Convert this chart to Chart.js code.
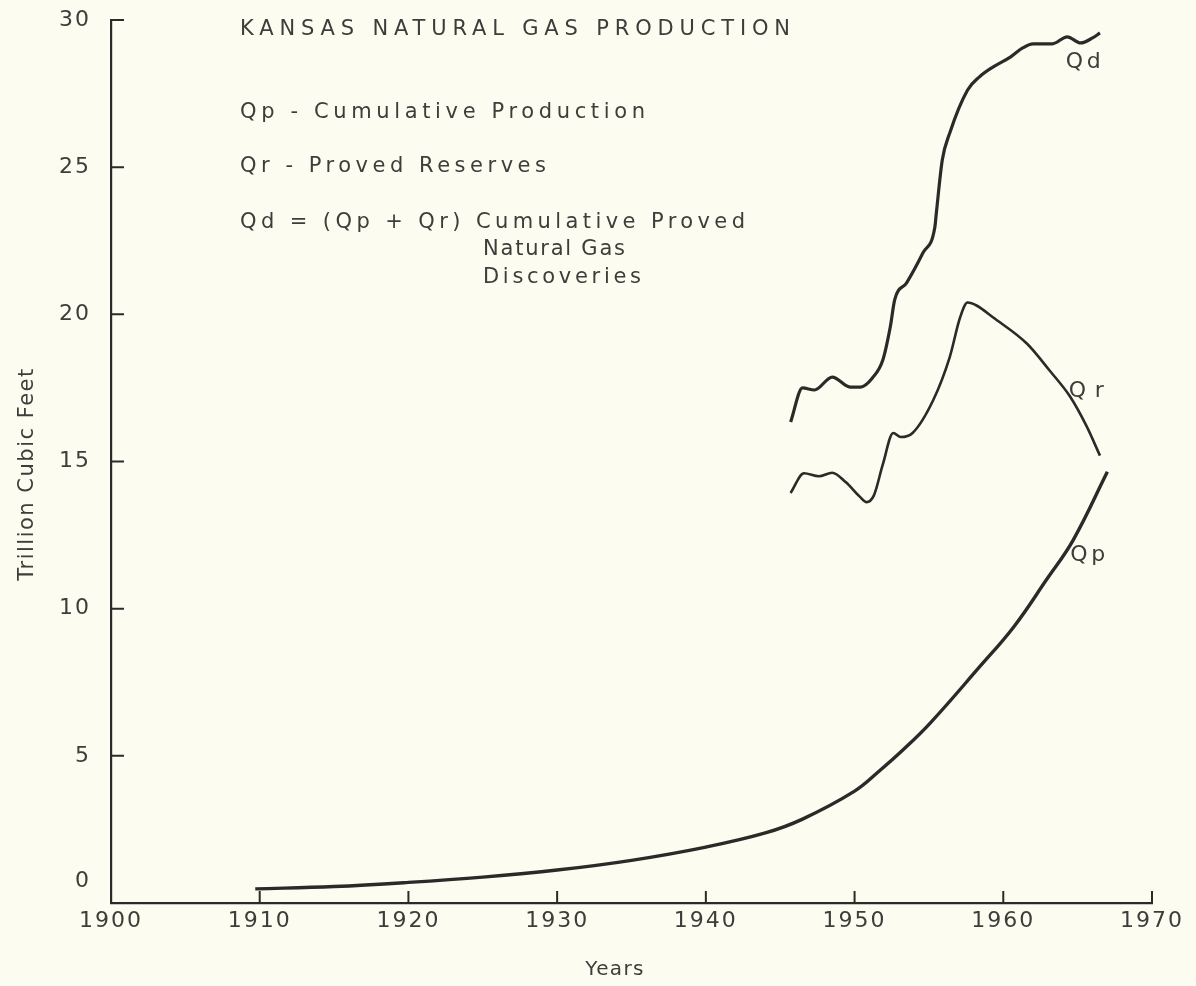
<!DOCTYPE html>
<html>
<head>
<meta charset="utf-8">
<script src="https://cdn.jsdelivr.net/npm/chart.js@4.4.0/dist/chart.umd.min.js"></script>
<style>
    html, body { margin: 0; padding: 0; background: #fcfcf1; }
    #wrap { width: 1196px; height: 986px; }
</style>
</head>
<body>
<div id="wrap"><canvas id="myChart" width="1196" height="986"></canvas></div>
<script>
// values (years, trillion cubic feet)
const qpYears = [1909.7, 1915, 1920, 1925, 1930, 1935, 1940, 1944, 1946.5, 1950, 1951.7, 1953.3, 1955.1, 1958.4, 1960.7, 1962.9, 1964.7, 1967.0]
const qpValues = [0.48, 0.56, 0.7, 0.88, 1.12, 1.45, 1.9, 2.38, 2.85, 3.8, 4.5, 5.22, 6.12, 8.02, 9.38, 10.98, 12.33, 14.65]

const qrYears = [1945.7, 1946.6, 1947.6, 1948.5, 1949.4, 1950.4, 1950.8, 1951.3, 1951.9, 1952.6, 1953.1, 1953.9, 1955.3, 1956.4, 1957.1, 1957.6, 1958.2, 1959.3, 1961.6, 1963.1, 1964.5, 1965.6, 1966.5]
const qrValues = [13.93, 14.6, 14.5, 14.62, 14.3, 13.78, 13.62, 13.85, 14.9, 15.97, 15.83, 15.97, 17.1, 18.55, 19.9, 20.4, 20.3, 19.9, 19.0, 18.1, 17.2, 16.2, 15.2]

const qdYears = [1945.7, 1946.5, 1947.3, 1948.5, 1949.7, 1950.4, 1951.2, 1951.9, 1952.4, 1952.7, 1953.5, 1954.6, 1955.4, 1955.5, 1955.9, 1956.4, 1957.6, 1958.4, 1959.3, 1960.5, 1961.3, 1962.0, 1963.3, 1964.3, 1965.2, 1966.0, 1966.5]
const qdValues = [16.34, 17.5, 17.43, 17.87, 17.53, 17.53, 17.84, 18.45, 19.57, 20.5, 21.07, 22.09, 22.97, 23.45, 25.25, 26.16, 27.62, 28.07, 28.4, 28.75, 29.05, 29.19, 29.19, 29.43, 29.22, 29.39, 29.56]

// curve labels, placed in data coordinates (left edge / middle)
const labelTexts = ['Qd', 'Qr', 'Qp']
const labelYears = [1964.2, 1964.4, 1964.5]
const labelValues = [28.55, 17.4, 11.8]

const xMin = 1900, xMax = 1970, xStep = 10
const yMin = 0, yMax = 30, yStep = 5

const INK = '#2a2a28'
const TEXT = '#3d3d3a'
const PAPER = '#fcfcf1'
const FONT = '"DejaVu Sans", sans-serif'

function toPoints(xs, ys) {
    return xs.map((v, i) => ({x: v, y: ys[i]}))
}

// draw text stretched with letter spacing to a given visible width
function spaced(ctx, text, x, y, size, width) {
    ctx.font = size + 'px ' + FONT
    ctx.letterSpacing = '0px'
    const w0 = ctx.measureText(text).width
    const s = text.length > 1 ? Math.max(0, (width - w0) / (text.length - 1)) : 0
    ctx.letterSpacing = s + 'px'
    ctx.fillText(text, x, y)
}

const sketch = {
    id: 'sketch',
    beforeDraw(chart) {
        const ctx = chart.ctx
        ctx.save()
        ctx.fillStyle = PAPER
        ctx.fillRect(0, 0, chart.width, chart.height)
        ctx.restore()
        ctx.letterSpacing = '2px'
    },
    afterDraw(chart) {
        const {ctx, chartArea, scales} = chart
        const xs = scales.x, ys = scales.y
        ctx.save()
        // inward tick marks
        ctx.strokeStyle = INK
        ctx.lineWidth = 2
        ctx.beginPath()
        ys.ticks.forEach(t => {
            if (t.value > yMin) {
                const py = ys.getPixelForValue(t.value)
                ctx.moveTo(chartArea.left, py)
                ctx.lineTo(chartArea.left + 13, py)
            }
        })
        xs.ticks.forEach(t => {
            if (t.value > xMin) {
                const px = xs.getPixelForValue(t.value)
                ctx.moveTo(px, chartArea.bottom)
                ctx.lineTo(px, chartArea.bottom - 12)
            }
        })
        ctx.stroke()

        ctx.fillStyle = TEXT
        // the zero label sits above the axis corner
        ctx.font = '22px ' + FONT
        ctx.letterSpacing = '0px'
        ctx.textAlign = 'right'
        ctx.textBaseline = 'middle'
        ctx.fillText('0', 89, ys.getPixelForValue(0) - 22)

        ctx.textAlign = 'left'
        ctx.textBaseline = 'alphabetic'
        spaced(ctx, 'KANSAS NATURAL GAS PRODUCTION', 240, 35, 21, 550)
        spaced(ctx, 'Qp - Cumulative Production', 240, 118, 21, 405)
        spaced(ctx, 'Qr - Proved Reserves', 240, 172, 21, 306)
        spaced(ctx, 'Qd = (Qp + Qr) Cumulative Proved', 240, 228, 21, 505)
        spaced(ctx, 'Natural Gas', 483, 255, 21, 142)
        spaced(ctx, 'Discoveries', 483, 283, 21, 158)

        ctx.textBaseline = 'middle'
        labelTexts.forEach((txt, i) => {
            const px = xs.getPixelForValue(labelYears[i])
            const py = ys.getPixelForValue(labelValues[i])
            spaced(ctx, txt, px, py, 22, 35)
        })

        // axis titles
        ctx.textAlign = 'center'
        spaced(ctx, 'Years', 615, 970, 20, 58)
        ctx.translate(28, 474)
        ctx.rotate(-Math.PI / 2)
        spaced(ctx, 'Trillion Cubic Feet', 0, 0, 21, 212)
        ctx.restore()
    }
}

const lineStyle = {
    borderColor: INK,
    pointRadius: 0,
    fill: false,
    cubicInterpolationMode: 'monotone'
}

const ctx = document.getElementById('myChart')
new Chart(ctx, {
    type: 'line',
    data: {
        datasets: [
            {...lineStyle, label: 'Qd', data: toPoints(qdYears, qdValues), borderWidth: 3.2},
            {...lineStyle, label: 'Qr', data: toPoints(qrYears, qrValues), borderWidth: 2.6},
            {...lineStyle, label: 'Qp', data: toPoints(qpYears, qpValues), borderWidth: 3.4,
                cubicInterpolationMode: 'default', tension: 0.4}
        ]
    },
    options: {
        responsive: false,
        animation: false,
        layout: {
            autoPadding: false,
            padding: {top: 20, right: 44, left: 0, bottom: 0}
        },
        plugins: {
            legend: {display: false},
            tooltip: {enabled: false}
        },
        scales: {
            x: {
                type: 'linear',
                min: xMin,
                max: xMax,
                grid: {display: false, drawTicks: false},
                border: {display: true, color: INK, width: 2.2},
                ticks: {
                    stepSize: xStep,
                    color: TEXT,
                    font: {family: FONT, size: 22},
                    padding: 5,
                    maxRotation: 0,
                    callback: v => String(v)
                },
                afterFit: s => {
                    s.height = 83
                    s.paddingLeft = 0
                    s.paddingRight = 0
                }
            },
            y: {
                min: yMin,
                max: yMax,
                grid: {display: false, drawTicks: false},
                border: {display: true, color: INK, width: 2.2},
                ticks: {
                    stepSize: yStep,
                    color: TEXT,
                    font: {family: FONT, size: 22},
                    padding: 20,
                    callback: v => v === 0 ? '' : String(v)
                },
                afterFit: s => {
                    s.width = 111
                    s.paddingTop = 0
                    s.paddingBottom = 0
                }
            }
        }
    },
    plugins: [sketch]
})
</script>
</body>
</html>
